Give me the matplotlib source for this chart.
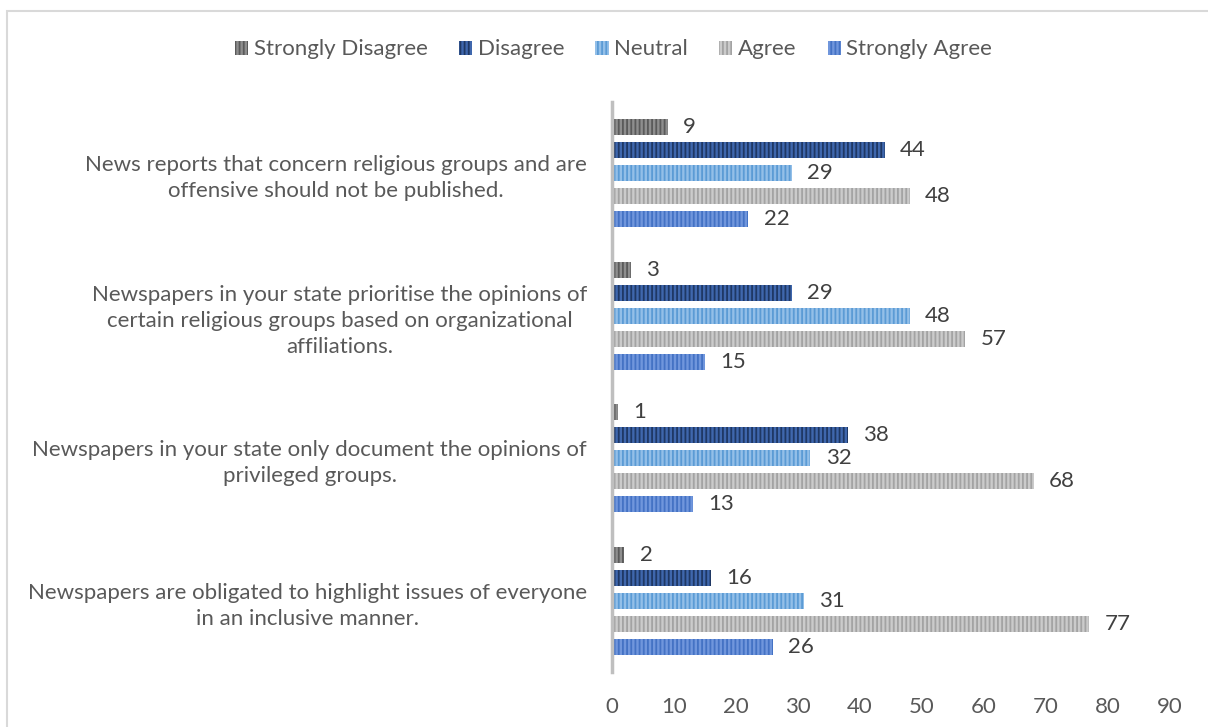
import matplotlib.pyplot as plt
from matplotlib.patches import Rectangle, Patch
import numpy as np

plt.rcParams['font.family'] = ['Lato', 'DejaVu Sans']
plt.rcParams['hatch.linewidth'] = 1.3

statements = [
    "News reports that concern religious groups and are\noffensive should not be published.",
    "Newspapers in your state prioritise the opinions of\ncertain religious groups based on organizational\naffiliations.",
    "Newspapers in your state only document the opinions of\nprivileged groups.",
    "Newspapers are obligated to highlight issues of everyone\nin an inclusive manner.",
]
responses = ["Strongly Disagree", "Disagree", "Neutral", "Agree", "Strongly Agree"]

strongly_disagree = [9, 3, 1, 2]
disagree = [44, 29, 38, 16]
neutral = [29, 48, 32, 31]
agree = [48, 57, 68, 77]
strongly_agree = [22, 15, 13, 26]

# (face, stripe) colours per response
face_colors = ["#8e8e8e", "#3f67ad", "#93bfe8", "#cbcbcb", "#7096dc"]
stripe_colors = ["#5a5a5a", "#1f3864", "#5b9bd5", "#a3a3a3", "#4472c4"]

series = [strongly_disagree, disagree, neutral, agree, strongly_agree]

fig = plt.figure(figsize=(12.08, 7.27), dpi=100)
ax = fig.add_axes([0.5066, 0.0757, 0.462, 0.784])

# light frame around the whole chart
fig.patches.append(Rectangle((7 / 1208, -0.05), 1.2, 1 - 11 / 727 + 0.05,
                             transform=fig.transFigure, fill=False,
                             edgecolor="#d9d9d9", linewidth=1.5))

fs = 16
y = np.arange(len(statements))
step = 0.161
height = 0.112
for i, (vals, name) in enumerate(zip(series, responses)):
    pos = y + (i - 2) * step
    ax.barh(pos, vals, height=height, color=face_colors[i],
            edgecolor=stripe_colors[i], hatch="||||", linewidth=0, label=name)
    for p, v in zip(pos, vals):
        ax.annotate(str(v), (v, p), xytext=(11, 0), textcoords="offset points",
                    va="center", ha="left", fontsize=fs, color="#404040")

ax.set_ylim(3.5, -0.5)
ax.set_xlim(0, 90)
ax.set_xticks(range(0, 91, 10))
ax.set_yticks(y)
ax.set_yticklabels(statements, multialignment="center", linespacing=1.38)
ax.tick_params(axis="y", length=0, pad=18, labelsize=fs, labelcolor="#595959")
ax.tick_params(axis="x", length=0, pad=18, labelsize=fs, labelcolor="#595959")
for s in ["top", "right", "bottom"]:
    ax.spines[s].set_visible(False)
ax.spines["left"].set_color("#bfbfbf")
ax.spines["left"].set_linewidth(2.5)

handles = [Patch(facecolor=face_colors[i], edgecolor=stripe_colors[i],
                 hatch="||||", linewidth=0) for i in range(len(responses))]
fig.legend(handles, responses, loc="center", bbox_to_anchor=(0.508, 0.932),
           ncol=5, frameon=False, fontsize=fs, labelcolor="#595959",
           handlelength=0.6, handleheight=0.6, handletextpad=0.25,
           columnspacing=1.4)

fig.savefig("out.png", dpi=100)
